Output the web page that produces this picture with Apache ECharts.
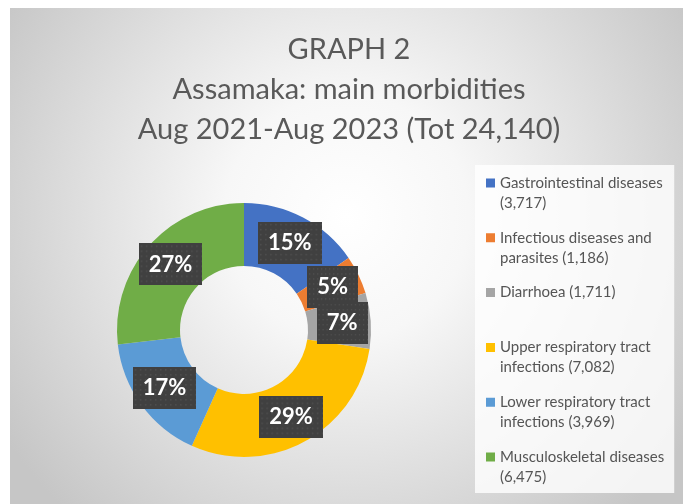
<!DOCTYPE html>
<html>
<head>
<meta charset="utf-8">
<script src="https://cdn.jsdelivr.net/npm/echarts@6/dist/echarts.min.js"></script>
<style>
  html, body { margin: 0; padding: 0; background: #fff; }
  #chart { position: absolute; left: 10px; top: 8px; width: 673px; height: 496px; }
</style>
</head>
<body>
<div id="chart"></div>
<script>
// data
const categories = [
  'Gastrointestinal diseases',
  'Infectious diseases and parasites',
  'Diarrhoea',
  'Upper respiratory tract infections',
  'Lower respiratory tract infections',
  'Musculoskeletal diseases'
]
const values = [3717, 1186, 1711, 7082, 3969, 6475]
const colors = ['#4472C4', '#ED7D31', '#A5A5A5', '#FFC000', '#5B9BD5', '#70AD47']
const titleLines = ['GRAPH 2', 'Assamaka: main morbidities', 'Aug 2021-Aug 2023 (Tot 24,140)']

const fmt = (v) => v.toLocaleString('en-US')

// wrap legend text into two lines, like the office legend does
function wrapLegend(text, maxChars) {
  const words = text.split(' ')
  const lines = ['']
  words.forEach((w) => {
    const cur = lines[lines.length - 1]
    if (cur && (cur + ' ' + w).length > maxChars) lines.push(w)
    else lines[lines.length - 1] = cur ? cur + ' ' + w : w
  })
  if (lines.length < 2) lines.push('\u00a0')
  return lines.join('\n')
}
const legendNames = {}
categories.forEach((c, i) => {
  legendNames[c] = wrapLegend(c + ' (' + fmt(values[i]) + ')', 25)
})

// dark dotted box behind the percentage labels
function dotBox(w, h) {
  const c = document.createElement('canvas')
  c.width = w
  c.height = h
  const g = c.getContext('2d')
  g.fillStyle = '#404040'
  g.fillRect(0, 0, w, h)
  g.fillStyle = '#505050'
  for (let y = 2; y < h; y += 5) {
    for (let x = 2; x < w; x += 5) g.fillRect(x, y, 1.5, 1.5)
  }
  return c
}
const boxImg = dotBox(63, 42)

const chart = echarts.init(document.getElementById('chart'))

const option = {
  backgroundColor: new echarts.graphic.RadialGradient(0.5, 0.42, 0.82, [
    { offset: 0, color: '#ffffff' },
    { offset: 0.3, color: '#f7f7f7' },
    { offset: 1, color: '#c6c6c6' },
  ]),
  color: colors,
  title: {
    text: titleLines.join('\n'),
    left: 339,
    top: 22,
    padding: 0,
    textAlign: 'center',
    textStyle: {
      fontFamily: 'Lato',
      fontWeight: 'normal',
      fontSize: 29,
      lineHeight: 40,
      color: '#595959',
    },
  },
  legend: {
    orient: 'vertical',
    left: 465,
    top: 157,
    padding: [8, 10, 6, 11],
    backgroundColor: 'rgba(255,255,255,0.8)',
    itemWidth: 9,
    itemHeight: 29,
    itemGap: 14.8,
    icon: 'path://M0,0L10,0L10,10L0,10Z M0,32.2L0.01,32.2',
    formatter: (name) => legendNames[name],
    textStyle: {
      fontFamily: 'Lato',
      fontSize: 15,
      lineHeight: 20,
      width: 163,
      color: '#555555',
    },
    data: categories,
  },
  series: [
    {
      type: 'pie',
      center: [234, 322],
      radius: [64, 127],
      startAngle: 90,
      clockwise: true,
      percentPrecision: 0,
      silent: true,
      data: categories.map((c, i) => ({ name: c, value: values[i] })),
      label: {
        show: true,
        position: 'inside',
        formatter: '{d}%',
        fontFamily: 'Lato',
        fontWeight: 'bold',
        fontSize: 22,
        lineHeight: 24,
        color: '#ffffff',
        backgroundColor: { image: boxImg },
        padding: [9, 10],
        shadowBlur: 5,
        shadowColor: 'rgba(0,0,0,0.35)',
        shadowOffsetX: 2,
        shadowOffsetY: 2,
      },
      labelLayout: { hideOverlap: false },
      labelLine: { show: false },
    },
  ],
}

chart.setOption(option)
</script>
</body>
</html>
